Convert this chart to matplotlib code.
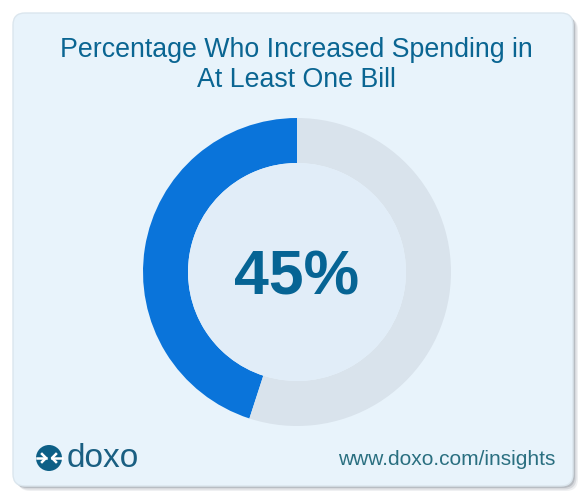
import matplotlib.pyplot as plt
from matplotlib.patches import FancyBboxPatch, Circle

plt.rcParams['font.family'] = ['Liberation Sans', 'DejaVu Sans']

title = "Percentage Who Increased Spending in\nAt Least One Bill"
labels = ["Increased", "Did not increase"]
shares = [45, 55]
colors = ["#0a74da", "#d9e3ec"]

W, H = 585, 498
fig = plt.figure(figsize=(W / 100, H / 100), dpi=100)
fig.patch.set_facecolor("white")

# background card in pixel coordinates
bg = fig.add_axes([0, 0, 1, 1])
bg.set_xlim(0, W)
bg.set_ylim(H, 0)
bg.axis("off")

for off, a in [(5, 0.10), (3.5, 0.18), (2, 0.28)]:
    bg.add_patch(FancyBboxPatch((13 + off, 13 + off), 560, 473,
                                boxstyle="round,pad=0,rounding_size=12",
                                fc="#6a7580", ec="none", alpha=a))
bg.add_patch(FancyBboxPatch((13, 13), 560, 473,
                            boxstyle="round,pad=0,rounding_size=12",
                            fc="#e8f3fb", ec="#dbe6ee", lw=1))

bg.text(296, 65, title, ha="center", va="center", fontsize=19.3,
        color="#0a6592", linespacing=1.22)

# doxo logo
lx, ly = 49, 458
bg.add_patch(Circle((lx, ly), 13, fc="#0d5f86", ec="none"))
for s in (-1, 1):
    bg.plot([lx + s * 12.5, lx + s * 3], [ly, ly], color="white", lw=1.8)
    bg.plot([lx + s * 7, lx + s * 3, lx + s * 7], [ly - 4, ly, ly + 4],
            color="white", lw=1.8)
bg.text(67, 458, "doxo", ha="left", va="center", fontsize=24,
        color="#1a5f82")
bg.text(555, 459, "www.doxo.com/insights", ha="right", va="center",
        fontsize=15, color="#2a6f80")

# donut
cx, cy, r = 297, 272, 154
ax = fig.add_axes([(cx - r) / W, (H - cy - r) / H, 2 * r / W, 2 * r / H])
ax.pie(shares, colors=colors, startangle=90, counterclock=True,
       wedgeprops=dict(width=45 / 154, edgecolor="none"))
ax.add_patch(Circle((0, 0), 1 - 45 / 154, fc="#e1edf8", ec="none"))
ax.set_xlim(-1, 1)
ax.set_ylim(-1, 1)
ax.set_aspect("equal")
ax.text(0, -0.04, f"{shares[0]}%", ha="center", va="center", fontsize=45,
        fontweight="bold", color="#066494")

fig.savefig("out.png", dpi=100, facecolor=fig.get_facecolor())
